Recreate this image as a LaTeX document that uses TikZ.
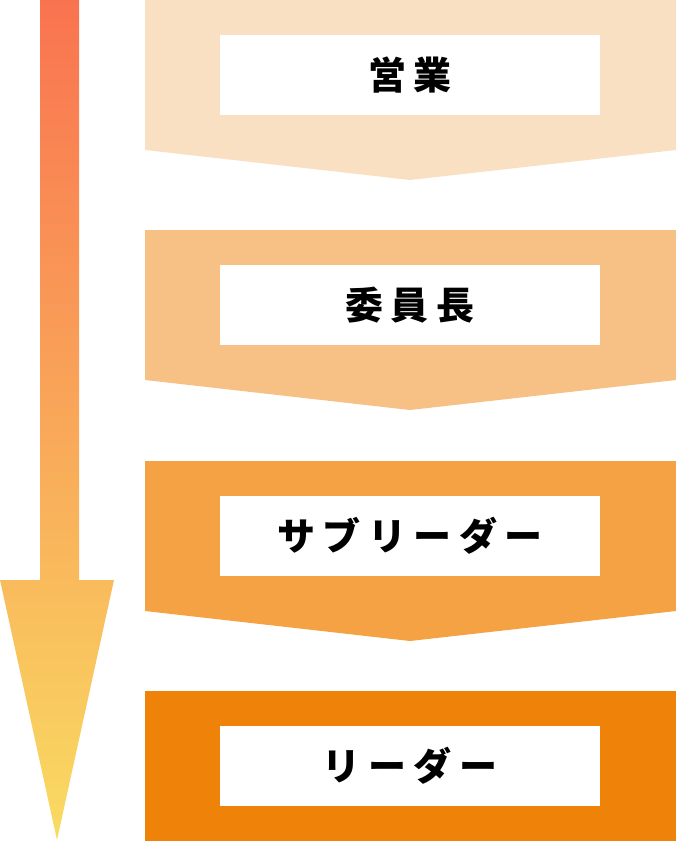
\documentclass[tikz,border=0pt]{standalone}
\usepackage{fontspec}
\newfontfamily\jpfont[LetterSpace=20]{Noto Sans CJK JP}
\usetikzlibrary{
  positioning,  % 节点相对定位
  calc          % 坐标计算
}
\definecolor{stepA}{HTML}{FAE0C3}
\definecolor{stepB}{HTML}{F7C084}
\definecolor{stepC}{HTML}{F4A244}
\definecolor{stepD}{HTML}{EF8208}
\definecolor{arrowtop}{HTML}{F97350}
\definecolor{arrowmid}{HTML}{F99A5A}
\definecolor{arrowbottom}{HTML}{F9DB62}
\tikzset{
  chevron/.style={
    draw=none
  },
  label box/.style={
    rectangle,
    fill=white,
    minimum width=380pt,
    minimum height=80pt,
    inner sep=0pt,
    font=\jpfont\bfseries\fontsize{38pt}{38pt}\selectfont
  }
}

\begin{document}
\begin{tikzpicture}[x=1pt, y=-1pt]
    \useasboundingbox (0,0) rectangle (676,841);

    % 1. 左侧渐变箭头
    \shade[top color=arrowtop, middle color=arrowmid, bottom color=arrowbottom]
      (40,0) -- (79,0) -- (79,580) -- (114,580) -- (57,840)
      -- (0,580) -- (40,580) -- cycle;

    % 2. 右侧台阶 (下尖的五边形)
    \foreach \i/\top/\col/\txt in {1/0/stepA/営業, 2/230/stepB/委員長, 3/461/stepC/サブリーダー}{
      \fill[chevron, \col] (145,\top) -- (676,\top) -- (676,\top+150)
        -- (410,\top+180) -- (145,\top+150) -- cycle;
      \node[label box] (step\i) at (410,\top+75) {\txt};
    }

    % 最后一级: 普通矩形
    \fill[chevron, stepD] (145,691) rectangle (676,841);
    \node[label box] (step4) at (410,766) {リーダー};

  \end{tikzpicture}
\end{document}
